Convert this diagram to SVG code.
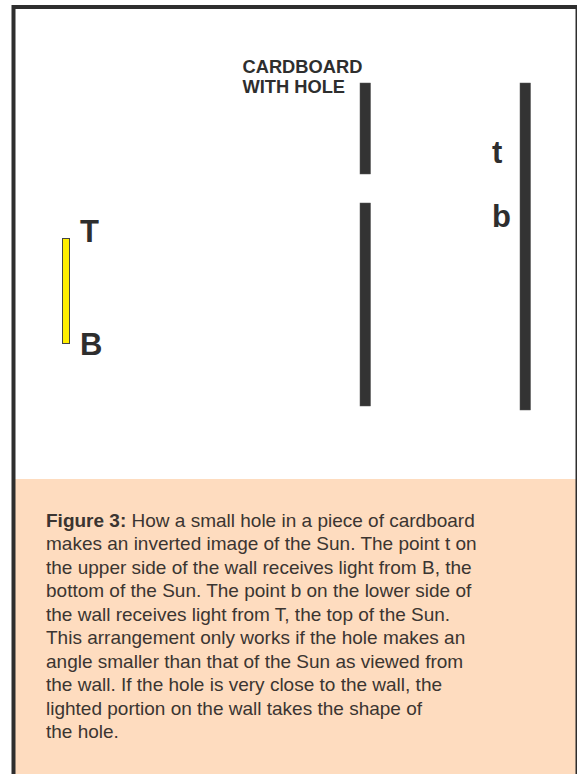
<svg xmlns="http://www.w3.org/2000/svg" width="577" height="774" viewBox="0 0 577 774">
<style>
.bar{fill:#333333;stroke:#555;stroke-width:0.5}
.lbl{font-family:"Liberation Sans",Arial,sans-serif;font-weight:bold;fill:#2e2e2e}
.cap{font-family:"Liberation Sans",Arial,sans-serif;font-size:19px;fill:#3b3531}
</style>
<rect x="0" y="0" width="577" height="774" fill="#ffffff"/>
<rect id="caption-bg" x="14" y="479" width="563" height="300" fill="#fedcbf"/>
<rect id="frame" x="13.5" y="7" width="564" height="780" fill="none" stroke="#2e2e2e" stroke-width="4"/>
<g id="sun">
<rect x="62.5" y="238.5" width="7" height="105" fill="#ffee00" stroke="#444" stroke-width="1"/>
<text class="lbl" x="80" y="241.5" font-size="31">T</text>
<text class="lbl" x="80" y="355" font-size="31">B</text>
</g>
<g id="cardboard">
<rect class="bar" x="360" y="83" width="10.5" height="91"/>
<rect class="bar" x="360" y="203" width="10.5" height="203"/>
<text class="lbl" x="242.5" y="73.3" font-size="18.3">CARDBOARD</text>
<text class="lbl" x="242.5" y="93.3" font-size="18.3">WITH HOLE</text>
</g>
<g id="wall">
<rect class="bar" x="520" y="83" width="10.5" height="327"/>
<text class="lbl" x="492" y="162.7" font-size="31">t</text>
<text class="lbl" x="492" y="227.3" font-size="31">b</text>
</g>
<g id="caption">
<text class="cap" x="46" y="526.5"><tspan font-weight="bold">Figure 3:</tspan> How a small hole in a piece of cardboard</text>
<text class="cap" x="46" y="550">makes an inverted image of the Sun. The point t on</text>
<text class="cap" x="46" y="573.5">the upper side of the wall receives light from B, the</text>
<text class="cap" x="46" y="597">bottom of the Sun. The point b on the lower side of</text>
<text class="cap" x="46" y="620.5">the wall receives light from T, the top of the Sun.</text>
<text class="cap" x="46" y="644">This arrangement only works if the hole makes an</text>
<text class="cap" x="46" y="667.5">angle smaller than that of the Sun as viewed from</text>
<text class="cap" x="46" y="691">the wall. If the hole is very close to the wall, the</text>
<text class="cap" x="46" y="714.5">lighted portion on the wall takes the shape of</text>
<text class="cap" x="46" y="738">the hole.</text>
</g>
<g id="connectors"></g>
</svg>
